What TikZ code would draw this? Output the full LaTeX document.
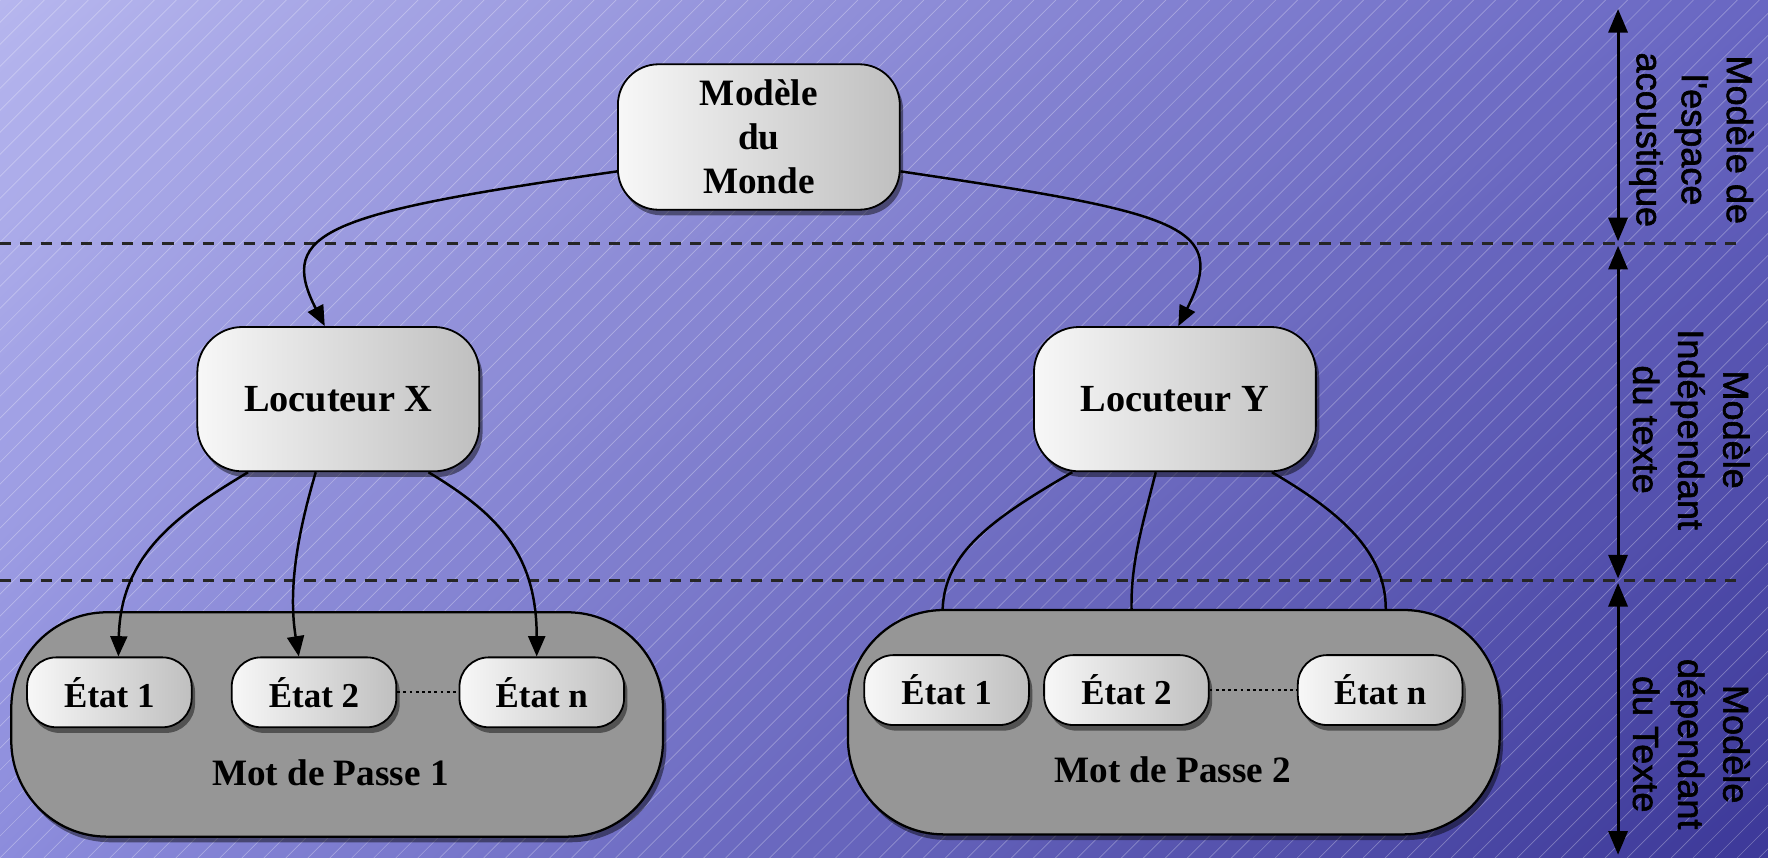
\documentclass[tikz,border=0pt]{standalone}
\usepackage{fontspec}
\setmainfont{Liberation Serif}
\newfontfamily\sansf[FakeBold=1.6]{Liberation Sans}
\usetikzlibrary{shadows,shadings,arrows.meta,calc}
\definecolor{bgUL}{RGB}{182,182,238}
\definecolor{bgUR}{RGB}{104,102,194}
\definecolor{bgLL}{RGB}{140,140,220}
\definecolor{bgLR}{RGB}{60,56,152}
\tikzset{
  softbox/.style={draw=black, line width=1.6pt, left color=gray!6, right color=gray!50,
    drop shadow={shadow xshift=3pt, shadow yshift=-5pt, opacity=0.45, fill=black},
    font=\fontsize{33}{39}\selectfont\bfseries, align=center, inner sep=0pt},
  stbox/.style={softbox, minimum width=146pt, minimum height=62pt, rounded corners=26pt,
    font=\fontsize{31}{37}\selectfont\bfseries},
  bigbox/.style={draw=black, line width=2pt, fill=black!41, minimum width=578pt,
    minimum height=199pt, rounded corners=85pt, inner sep=0pt,
    drop shadow={shadow xshift=3pt, shadow yshift=-5pt, opacity=0.45, fill=black}},
  boxlab/.style={font=\fontsize{33}{39}\selectfont\bfseries, inner sep=0pt},
  hatch/.style={white, opacity=0.3, line width=0.6pt},
  sepline/.style={black!85, line width=2.6pt, dash pattern=on 10pt off 8pt},
  conn/.style={black, line width=2.2pt},
  arr/.style={conn, -{Triangle[length=18pt,width=15pt]}},
  varr/.style={black, line width=2.6pt, {Triangle[length=21pt,width=17pt]}-{Triangle[length=21pt,width=17pt]}},
  sidelab/.style={rotate=-90, align=center, font=\sansf\fontsize{32}{40}\selectfont, inner sep=0pt},
  dotline/.style={black, line width=1.5pt, dash pattern=on 2.5pt off 3pt}
}
\begin{document}
\begin{tikzpicture}[x=1pt,y=-1pt]
\useasboundingbox (0,0) rectangle (1568,760.9);
\shade[upper left=bgUL, upper right=bgUR, lower left=bgLL, lower right=bgLR] (0,0) rectangle (1568,760.9);
\begin{scope}
  \clip (0,0) rectangle (1568,760.9);
  \foreach \i in {-40,...,81} \draw[hatch] (\i*19.5,760.9) -- ++(760.9,-760.9);
\end{scope}

% separators
\coordinate (s1a) at (0,216);   \coordinate (s1b) at (1545,216);
\coordinate (s2a) at (0,515);   \coordinate (s2b) at (1545,515);
\draw[sepline] (s1a) -- (s1b);
\draw[sepline] (s2a) -- (s2b);

% right scale
\coordinate (a0) at (1435,8);   \coordinate (a1) at (1435,214);
\coordinate (b0) at (1435,218); \coordinate (b1) at (1435,513);
\coordinate (c0) at (1435,517); \coordinate (c1) at (1435,758);
\draw[varr] (a0) -- (a1);
\draw[varr] (b0) -- (b1);
\draw[varr] (c0) -- (c1);
\node[sidelab] (lab1) at (1500,124) {Modèle de\\l'espace\\acoustique};
\node[sidelab] (lab2) at (1500,381) {Modèle\\Indépendant\\du texte};
\node[sidelab] (lab3) at (1500,660) {Modèle\\dépendant\\du Texte};

% nodes
\node[softbox, minimum width=250pt, minimum height=129pt, rounded corners=36pt] (mm) at (673,121.5) {Modèle\\du\\Monde};
\node[softbox, minimum width=250pt, minimum height=128pt, rounded corners=40pt, font=\fontsize{34}{40}\selectfont\bfseries] (lx) at (300,354) {Locuteur X};
\node[softbox, minimum width=250pt, minimum height=128pt, rounded corners=40pt, font=\fontsize{34}{40}\selectfont\bfseries] (ly) at (1042,354) {Locuteur Y};

\node[bigbox] (mp1) at (299,642.5) {};
\node[bigbox] (mp2) at (1041,640.5) {};
\node[boxlab] (t1) at (293,685) {Mot de Passe 1};
\node[boxlab] (t2) at (1040,683) {Mot de Passe 2};

\node[stbox] (e11) at (97,614) {État 1};
\node[stbox] (e12) at (278.5,614) {État 2};
\node[stbox] (e1n) at (480.5,614) {État n};
\node[stbox] (e21) at (839.5,612) {État 1};
\node[stbox] (e22) at (999,612) {État 2};
\node[stbox] (e2n) at (1224,612) {État n};

\draw[dotline] (e12.east) -- (e1n.west);
\draw[dotline] (e22.east) -- (e2n.west);

% connectors
\draw[arr] ([yshift=-30.5pt]mm.west) .. controls (290,189) and (245,205) .. ([xshift=-12pt]lx.north);
\draw[arr] ([yshift=-30.5pt]mm.east) .. controls (1048,189) and (1090,200) .. ([xshift=3pt]ly.north);

\draw[arr] ([xshift=-80pt]lx.south) .. controls (160,455) and (107,490) .. ([xshift=8pt]e11.north);
\draw[arr] ([xshift=-20pt]lx.south) .. controls (265,470) and (255,520) .. ([xshift=-13.5pt]e12.north);
\draw[arr] ([xshift=80pt]lx.south) .. controls (440,455) and (476,490) .. ([xshift=-4.5pt]e1n.north);

\draw[conn] ([xshift=-91pt]ly.south) .. controls (880,460) and (838,490) .. ([xshift=-205pt]mp2.north);
\draw[conn] ([xshift=-17pt]ly.south) .. controls (1012,470) and (1003,500) .. ([xshift=-37.5pt]mp2.north);
\draw[conn] ([xshift=86pt]ly.south) .. controls (1190,455) and (1229,490) .. ([xshift=188pt]mp2.north);
\end{tikzpicture}
\end{document}
